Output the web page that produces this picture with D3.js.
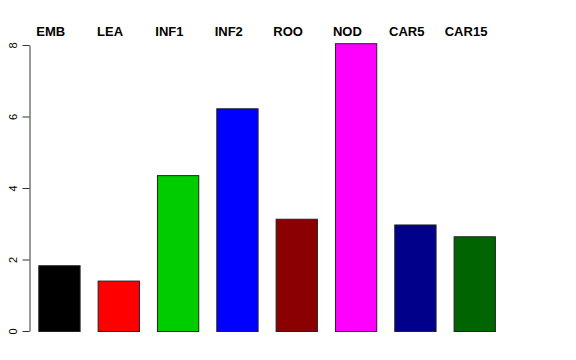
<!DOCTYPE html>
<html><head><meta charset="utf-8">
<script src="https://cdn.jsdelivr.net/npm/d3@7"></script>
<style>body{margin:0;background:#fff}svg{display:block}</style>
</head><body>
<svg id="c" width="576" height="360"></svg>
<script>
const categories = ["EMB","LEA","INF1","INF2","ROO","NOD","CAR5","CAR15"];
const values = [1.84, 1.41, 4.36, 6.23, 3.14, 8.05, 2.98, 2.65];
const colors = ["#000000","#FF0000","#00CD00","#0000FF","#8B0000","#FF00FF","#00008B","#006400"];
const yTicks = [0,2,4,6,8];

const svg = d3.select("#c");
const y = d3.scaleLinear().domain([0,8]).range([331,45]);
const x = d3.scaleBand().domain(categories).range([38.3,495.9]).paddingInner(0.287).paddingOuter(0);

svg.selectAll("rect.bar").data(values).enter().append("rect")
  .attr("class","bar")
  .attr("x",(d,i)=>x(categories[i])+0.5)
  .attr("width",x.bandwidth()-1)
  .attr("y",d=>y(d)+0.5)
  .attr("height",d=>y(0)-y(d))
  .attr("fill",(d,i)=>colors[i])
  .attr("stroke","#222").attr("stroke-width",1);

const ax = svg.append("g").attr("transform","translate(29.5,0)")
  .call(d3.axisLeft(y).tickValues(yTicks).tickSize(7).tickFormat(d3.format("d")).tickSizeOuter(0));
ax.select(".domain").attr("stroke","#333");
ax.selectAll(".tick line").attr("stroke","#333");
ax.selectAll(".tick text")
  .attr("font-family","Liberation Sans, Arial, sans-serif").attr("font-size",11).attr("fill","#000")
  .attr("transform","rotate(-90)").attr("x",0).attr("y",-13).attr("dy",0)
  .attr("text-anchor","middle");
ax.selectAll(".tick").attr("transform",d=>`translate(0,${y(d)+0.5})`);

svg.selectAll("text.lab").data(categories).enter().append("text")
  .attr("class","lab")
  .attr("x",d=>x(d)+x.bandwidth()/2-8.7).attr("y",35.7)
  .attr("text-anchor","middle")
  .attr("font-family","Liberation Sans, Arial, sans-serif")
  .attr("font-weight","bold").attr("font-size",13)
  .text(d=>d);
</script>
</body></html>
